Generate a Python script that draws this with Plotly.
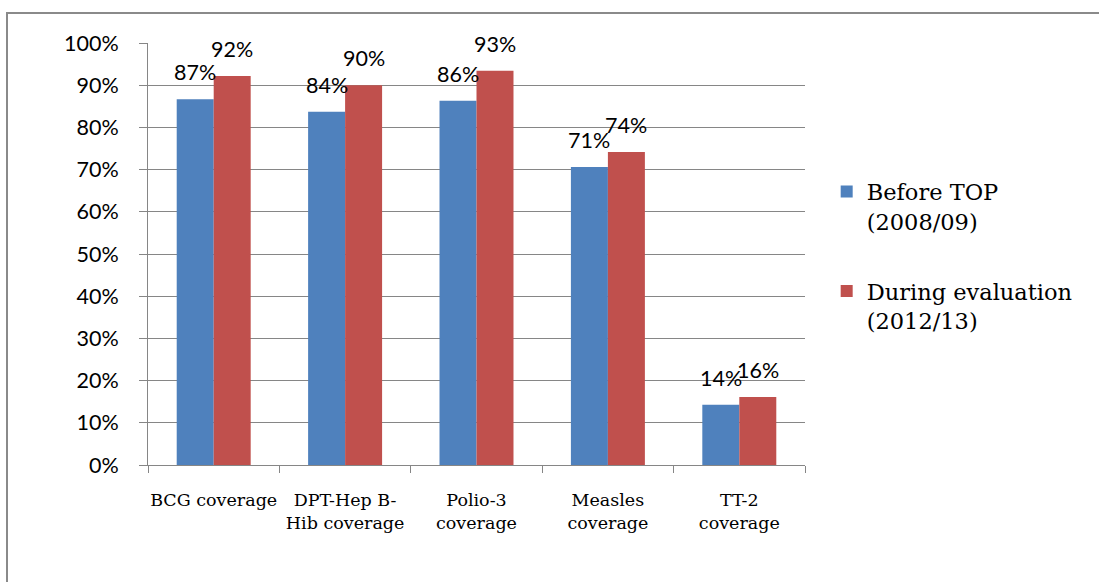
import plotly.graph_objects as go

# Immunisation coverage before and during the TOP programme
categories = ["BCG coverage", "DPT-Hep B-<br>Hib coverage", "Polio-3<br>coverage",
              "Measles<br>coverage", "TT-2<br>coverage"]
before_top = [0.867, 0.837, 0.863, 0.706, 0.143]
during_eval = [0.922, 0.900, 0.934, 0.742, 0.161]
series_names = ["Before TOP<br>(2008/09)", "During evaluation<br>(2012/13)"]
series_colors = ["#4F81BD", "#C0504D"]
y_ticks = [i / 10 for i in range(11)]

W, H = 1099, 582
M_L, M_R, M_T, M_B = 148, 294, 43, 117
BARGAP = 0.437

SANS = "Lato, 'Liberation Sans', sans-serif"
SERIF = "'DejaVu Serif', 'Liberation Serif', serif"

fig = go.Figure()
for name, vals, col, grp in zip(series_names, [before_top, during_eval],
                                series_colors, ["a", "b"]):
    fig.add_trace(go.Bar(
        x=categories, y=vals, name=name, legendgroup=grp,
        marker=dict(color=col, line=dict(width=0)),
    ))

# value labels above each bar
plot_w = W - M_L - M_R
bar_w = plot_w / len(categories) * (1 - BARGAP) / 2
for s, vals in enumerate([before_top, during_eval]):
    shift = (s - 0.5) * bar_w
    for cat, v in zip(categories, vals):
        fig.add_annotation(
            x=cat, y=v, xref="x", yref="y", text=f"{v:.0%}",
            showarrow=False, xshift=shift, yshift=27, yanchor="middle",
            font=dict(family=SANS, size=21.5, color="#000000"),
        )

# chart frame
fig.add_shape(type="rect", xref="paper", yref="paper",
              x0=(7 - M_L) / plot_w, x1=1.6,
              y0=-0.6, y1=(H - M_B - 13) / (H - M_T - M_B),
              line=dict(color="#8a8a8a", width=2), fillcolor="rgba(0,0,0,0)",
              layer="below")

fig.update_layout(
    width=W, height=H,
    margin=dict(l=M_L, r=M_R, t=M_T, b=M_B, pad=0, autoexpand=False),
    paper_bgcolor="white", plot_bgcolor="white",
    barmode="group", bargap=BARGAP, bargroupgap=0,
    showlegend=True,
    legend=dict(
        x=1.033, y=0.698, xanchor="left", yanchor="top",
        traceorder="grouped", tracegroupgap=38, valign="top",
        font=dict(family=SERIF, size=22.5, color="#000000"),
        bgcolor="rgba(0,0,0,0)",
    ),
    xaxis=dict(
        type="category", tickson="boundaries", ticks="outside", ticklen=7,
        tickcolor="#868686", showline=True, linecolor="#868686", linewidth=1,
        showgrid=False, ticklabelstandoff=19, tickangle=0, automargin=False,
        tickfont=dict(family=SERIF, size=17.5, color="#000000"),
    ),
    yaxis=dict(
        range=[0, 1], tickvals=y_ticks, tickformat=".0%",
        ticks="outside", ticklen=8, tickcolor="#868686",
        showline=True, linecolor="#868686", linewidth=1,
        showgrid=True, gridcolor="#868686", gridwidth=1,
        zeroline=False, ticklabelstandoff=16, automargin=False,
        tickfont=dict(family=SANS, size=21.5, color="#000000"),
    ),
)

fig.write_html("out.html")
